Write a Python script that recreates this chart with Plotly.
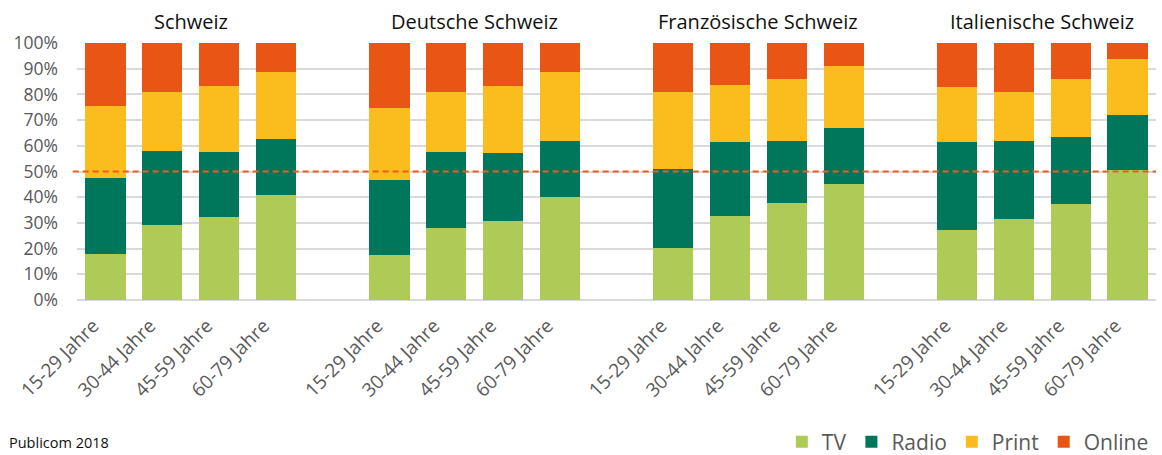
import plotly.graph_objects as go

# Mediennutzung nach Region und Alter (Anteile in %)
regions = ["Schweiz", "Deutsche Schweiz", "Französische Schweiz", "Italienische Schweiz"]
ages = ["15-29 Jahre", "30-44 Jahre", "45-59 Jahre", "60-79 Jahre"]

tv = [17.9, 29.1, 32.3, 40.9,
      17.5, 28.2, 30.9, 40.2,
      20.3, 32.7, 37.9, 45.3,
      27.3, 31.6, 37.4, 50.4]
radio = [29.5, 28.9, 25.2, 21.8,
         29.1, 29.5, 26.2, 21.7,
         30.7, 28.9, 23.8, 21.7,
         34.1, 30.1, 26.2, 21.7]
printmedia = [28.2, 22.8, 25.6, 26.2,
              28.1, 23.3, 26.1, 26.9,
              30.0, 21.9, 24.1, 23.9,
              21.6, 19.1, 22.4, 21.7]
online = [24.4, 19.2, 16.9, 11.1,
          25.3, 19.0, 16.8, 11.2,
          19.0, 16.5, 14.2, 9.1,
          17.0, 19.2, 14.0, 6.2]

series = [("TV", tv, "#AECB57"),
          ("Radio", radio, "#00775A"),
          ("Print", printmedia, "#FBBD1D"),
          ("Online", online, "#E85514")]

# one empty slot between the region groups
slot = len(ages) + 1
xpos = [r * slot + a for r in range(len(regions)) for a in range(len(ages))]
xlabels = [a for r in regions for a in ages]

fig = go.Figure()
for name, vals, col in series:
    fig.add_trace(go.Bar(x=xpos, y=vals, name=name, marker_color=col,
                         marker_line_width=0))

# region titles
for i, reg in enumerate(regions):
    fig.add_annotation(x=i * slot + (len(ages) - 1) / 2, y=1.083, xref="x", yref="paper",
                       yanchor="middle", text=reg, showarrow=False,
                       font=dict(size=20, color="#111111", family="Open Sans"))

# 50%-Linie
fig.add_shape(type="line", xref="paper", yref="y", x0=-0.004, x1=1, y0=50, y1=50,
              line=dict(color="#F05A1E", width=2, dash="6px,4px"))

fig.add_annotation(x=-0.0649, y=-0.6, xref="paper", yref="paper", xanchor="left",
                   yanchor="bottom", text="Publicom 2018", showarrow=False,
                   font=dict(size=14.5, color="#111111", family="Open Sans"))

fig.update_layout(
    barmode="stack",
    bargap=0.29,
    width=1162, height=455,
    margin=dict(l=77, r=6, t=43, b=155, autoexpand=False),
    plot_bgcolor="white", paper_bgcolor="white",
    font=dict(family="Open Sans", color="#595959"),
    legend=dict(orientation="h", x=0.998, xanchor="right", y=-0.553, yanchor="middle",
                font=dict(size=21, color="#595959"), traceorder="normal",
                itemwidth=30),
    showlegend=True,
)
fig.update_xaxes(tickmode="array", tickvals=xpos, ticktext=xlabels, tickangle=-45,
                 range=[-0.5, len(regions) * slot - 1.5], showgrid=False,
                 tickfont=dict(size=19, color="#595959"), showline=False,
                 ticks="", ticklabelstandoff=10, ticklabelshift=-12,
                 automargin=False)
fig.update_yaxes(range=[0, 100], dtick=10, ticksuffix="%", showgrid=True,
                 gridcolor="#D9D9D9", gridwidth=1.5, zeroline=True,
                 zerolinecolor="#D9D9D9", zerolinewidth=1.5,
                 tickfont=dict(size=17.5, color="#595959"), ticklabelstandoff=18,
                 automargin=False)

# page without the default body margin so the figure fills the window
fig.write_html("out.html", config={"displayModeBar": False},
               post_script="document.body.style.margin='0';")
